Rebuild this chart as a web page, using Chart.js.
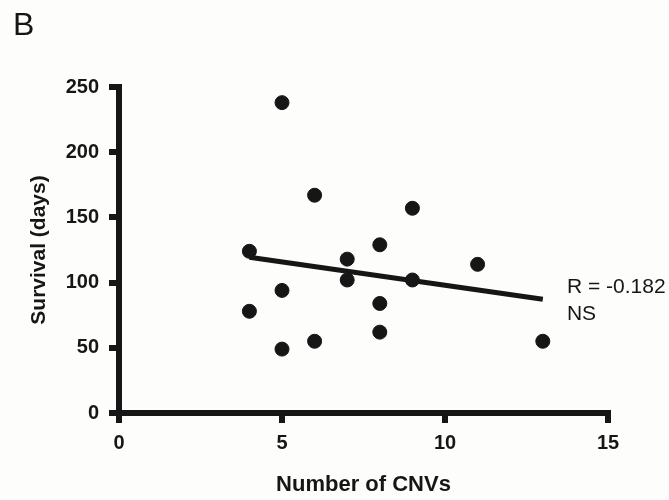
<!DOCTYPE html>
<html>
<head>
<meta charset="utf-8">
<script src="https://cdn.jsdelivr.net/npm/chart.js@4"></script>
<style>
  html, body { margin: 0; padding: 0; background: #fdfdfb; }
  #wrap { width: 669px; height: 500px; }
</style>
</head>
<body>
<div id="wrap"><canvas id="cnv_survival_scatter"></canvas></div>
<script>
// number of CNVs per case and survival in days
const cnvCounts    = [5, 6, 4, 7, 7, 5, 4, 5, 6, 9, 8, 9, 11, 8, 8, 13];
const survivalDays = [238, 167, 124, 118, 102, 94, 78, 49, 55, 157, 129, 102, 114, 84, 62, 55];

// regression line end points
const fitX = [4, 13];
const fitY = [119.5, 87.3];

const xTicks = [0, 5, 10, 15];
const yTicks = [0, 50, 100, 150, 200, 250];

const statLines = ['R = -0.182', 'NS'];
const panelLetter = 'B';

const ink = '#161616';
const family = '"Liberation Sans", Arial, sans-serif';

// panel letter + R value next to the fit line
const textPlugin = {
  id: 'textPlugin',
  afterDraw(chart) {
    const c = chart.ctx;
    const xs = chart.scales.x, ys = chart.scales.y;
    c.save();
    c.fillStyle = ink;
    c.textBaseline = 'alphabetic';
    c.textAlign = 'left';
    c.font = '32px ' + family;
    c.fillText(panelLetter, 13, 35);
    c.font = '21px ' + family;
    const tx = xs.getPixelForValue(13.74);
    const ty = ys.getPixelForValue(92);
    c.fillText(statLines[0], tx, ty);
    c.fillText(statLines[1], tx, ty + 27);
    c.restore();
  }
};

function cnv_survival_scatter() {
  const points = cnvCounts.map((x, i) => ({ x: x, y: survivalDays[i] }));
  const fitLine = fitX.map((x, i) => ({ x: x, y: fitY[i] }));

  const data = {
    datasets: [{
      type: 'scatter',
      data: points,
      backgroundColor: ink,
      borderColor: ink,
      pointRadius: 7,
      pointHoverRadius: 7
    }, {
      type: 'line',
      data: fitLine,
      borderColor: ink,
      borderWidth: 5,
      pointRadius: 0,
      fill: false
    }]
  };

  const axisGrid = {
    drawOnChartArea: false,
    drawTicks: true,
    tickLength: 10,
    tickWidth: 6,
    tickColor: ink,
    color: ink,
    lineWidth: 6
  };

  const options = {
    responsive: true,
    maintainAspectRatio: false,
    animation: false,
    layout: { padding: { top: 87, right: 61, left: 0, bottom: 0 } },
    plugins: { legend: { display: false }, tooltip: { enabled: false } },
    scales: {
      x: {
        type: 'linear',
        min: 0, max: 15,
        afterBuildTicks: s => { s.ticks = xTicks.map(v => ({ value: v })); },
        afterFit: s => { s.height = 87; },
        border: { color: ink, width: 6 },
        grid: axisGrid,
        ticks: { color: ink, padding: 8, font: { family: family, size: 20, weight: 'bold' } },
        title: {
          display: true,
          text: 'Number of CNVs',
          color: ink,
          font: { family: family, size: 22, weight: 'bold' },
          padding: { top: 2, bottom: 2 }
        }
      },
      y: {
        min: 0, max: 250,
        afterBuildTicks: s => { s.ticks = yTicks.map(v => ({ value: v })); },
        afterFit: s => { s.width = 119; },
        border: { color: ink, width: 6 },
        grid: axisGrid,
        ticks: { color: ink, padding: 10, font: { family: family, size: 20, weight: 'bold' } },
        title: {
          display: true,
          text: 'Survival (days)',
          color: ink,
          font: { family: family, size: 21, weight: 'bold' },
          padding: { top: 27, bottom: 0 }
        }
      }
    }
  };

  const ctx = document.getElementById('cnv_survival_scatter').getContext('2d');
  new Chart(ctx, { data: data, options: options, plugins: [textPlugin] });
}

document.addEventListener('DOMContentLoaded', cnv_survival_scatter);
</script>
</body>
</html>
